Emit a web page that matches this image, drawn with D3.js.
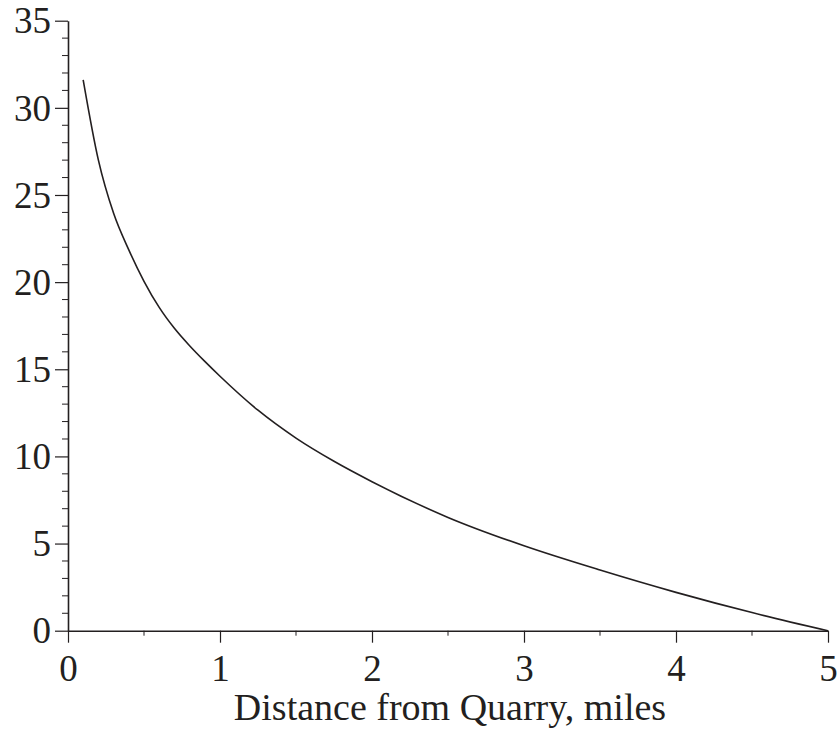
<!DOCTYPE html>
<html>
<head>
<meta charset="utf-8">
<script src="https://cdn.jsdelivr.net/npm/d3@7"></script>
<style>
  body { margin: 0; background: #fff; }
  text { font-family: "Liberation Serif", "Times New Roman", serif; fill: #231f20; }
</style>
</head>
<body>
<script>
// distance (miles) and value
var distances = [0.1, 0.2, 0.3, 0.4, 0.5, 0.6, 0.7, 0.8, 0.9, 1.0, 1.25, 1.5, 1.75, 2.0, 2.5, 3.0, 3.5, 4.0, 4.5, 5.0];
var values = [31.6, 27.0, 23.95, 21.85, 20.05, 18.55, 17.35, 16.35, 15.45, 14.6, 12.65, 11.05, 9.72, 8.55, 6.5, 4.87, 3.48, 2.2, 1.04, 0];

var xTicks = [0, 1, 2, 3, 4, 5];
var yTicks = [0, 5, 10, 15, 20, 25, 30, 35];
var xTitle = "Distance from Quarry, miles";

var width = 839,
    height = 733;

var svg = d3.select("body")
    .append("svg")
    .attr("width", width)
    .attr("height", height);

var x = d3.scaleLinear().domain([0, 5]).range([68, 828]);
var y = d3.scaleLinear().domain([0, 35]).range([630.7, 20.7]);

var ink = "#231f20";

//minor ticks first so the axes sit on top
var xMinor = d3.range(0.5, 5, 1);
var yMinor = d3.range(0, 36).filter(function(d){ return d % 5 != 0; });

svg.selectAll(".xminor")
    .data(xMinor)
    .enter()
    .append("line")
    .attr("x1", function(d){ return x(d); })
    .attr("x2", function(d){ return x(d); })
    .attr("y1", y(0))
    .attr("y2", y(0) + 5)
    .attr("stroke", ink)
    .attr("stroke-width", 1);

svg.selectAll(".yminor")
    .data(yMinor)
    .enter()
    .append("line")
    .attr("x1", x(0) - 6)
    .attr("x2", x(0))
    .attr("y1", function(d){ return y(d); })
    .attr("y2", function(d){ return y(d); })
    .attr("stroke", ink)
    .attr("stroke-width", 1);

//x axis
var xAxis = svg.append("g")
    .attr("transform", "translate(0," + y(0) + ")")
    .call(d3.axisBottom(x).tickValues(xTicks).tickFormat(d3.format("d"))
        .tickSize(12).tickPadding(12).tickSizeOuter(0));

//y axis
var yAxis = svg.append("g")
    .attr("transform", "translate(" + x(0) + ",0)")
    .call(d3.axisLeft(y).tickValues(yTicks).tickFormat(d3.format("d"))
        .tickSize(13).tickPadding(4).tickSizeOuter(0));

[xAxis, yAxis].forEach(function(g){
    g.attr("font-family", null);
    g.select(".domain").attr("stroke", ink).attr("stroke-width", 1.6);
    g.selectAll(".tick line").attr("stroke", ink).attr("stroke-width", 1.2);
    g.selectAll(".tick text")
        .style("font-size", "37px")
        .attr("fill", ink);
});
yAxis.selectAll(".tick text").attr("dy", "0.33em");

//the curve
var pts = distances.map(function(d, i){ return [d, values[i]]; });

var line = d3.line()
    .x(function(d){ return x(d[0]); })
    .y(function(d){ return y(d[1]); })
    .curve(d3.curveMonotoneX);

svg.append("path")
    .datum(pts)
    .attr("d", line)
    .attr("fill", "none")
    .attr("stroke", ink)
    .attr("stroke-width", 1.6);

//axis title
svg.append("text")
    .attr("x", 450)
    .attr("y", 720)
    .attr("text-anchor", "middle")
    .style("font-size", "38px")
    .text(xTitle);
</script>
</body>
</html>
